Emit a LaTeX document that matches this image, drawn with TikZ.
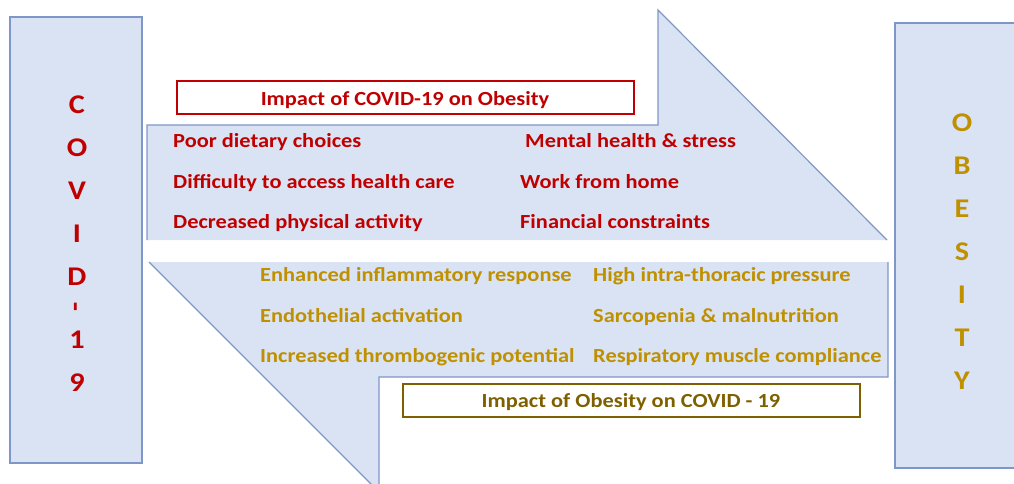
\documentclass[tikz,border=0pt]{standalone}
\usepackage{fontspec}
\setmainfont{Carlito}[FakeStretch=1.12]
\definecolor{panelfill}{HTML}{DAE3F3}
\definecolor{paneldraw}{HTML}{7F96C8}
\definecolor{covidred}{HTML}{C00000}
\definecolor{obesegold}{HTML}{BF9000}
\definecolor{obesebrown}{HTML}{7F6000}
\tikzset{
  panel/.style={fill=panelfill, draw=paneldraw, line width=1.2pt},
  bigletter/.style={font=\fontsize{27}{29}\selectfont\bfseries, inner sep=0pt},
  item/.style={font=\fontsize{20}{22}\selectfont\bfseries, anchor=base west, inner sep=0pt},
  heading/.style={font=\fontsize{20}{22}\selectfont\bfseries, anchor=base, inner sep=0pt}
}
\begin{document}
\begin{tikzpicture}[x=1pt, y=-1pt]
    \useasboundingbox (0,0) rectangle (1014,483);
    \clip (0,0) rectangle (1014,483);
    % side bars
    \draw[panel] (10,17) rectangle (142,463);
    \draw[panel] (895,23) rectangle (1029,468);
    % upper arrow, no outline on its lower side
    \fill[panelfill] (147,240) -- (147,125) -- (658,125) -- (658,10) -- (887,240) -- cycle;
    \draw[paneldraw, line width=1.2pt] (147,240) -- (147,125) -- (658,125) -- (658,10) -- (887,240);
    % lower arrow, no outline on its upper side
    \fill[panelfill] (149,262) -- (888,262) -- (888,377) -- (379,377) -- (379,492) -- cycle;
    \draw[paneldraw, line width=1.2pt] (149,262) -- (379,492) -- (379,377) -- (888,377) -- (888,262);
    % headings
    \draw[covidred, line width=2pt, fill=white] (177,81) rectangle (634,114);
    \node[heading, text=covidred] (topHead) at (405,105) {Impact of COVID-19 on Obesity};
    \draw[obesebrown, line width=2.5pt, fill=white] (403,384) rectangle (860,417);
    \node[heading, text=obesebrown] (botHead) at (631,407) {Impact of Obesity on COVID - 19};
    % COVID-19 letters
    \foreach \ch [count=\i] in {C,O,V,I,D}
      \node[bigletter, text=covidred] (cv\i) at (77,{62+43*\i}) {\ch};
    \node[bigletter, text=covidred, rotate=90] (cvDash) at (79,307) {-};
    \node[bigletter, text=covidred] (cvOne) at (77,340) {1};
    \node[bigletter, text=covidred] (cvNine) at (77,383) {9};
    % OBESITY letters
    \foreach \ch [count=\i] in {O,B,E,S,I,T,Y}
      \node[bigletter, text=obesegold] (ob\i) at (962,{80+43*\i}) {\ch};
    % covid -> obesity
    \node[item, text=covidred] (diet) at (173,147) {Poor dietary choices};
    \node[item, text=covidred] (access) at (173,188) {Difficulty to access health care};
    \node[item, text=covidred] (activity) at (173,228) {Decreased physical activity};
    \node[item, text=covidred] (stress) at (525,147) {Mental health \& stress};
    \node[item, text=covidred] (home) at (520,188) {Work from home};
    \node[item, text=covidred] (money) at (520,228) {Financial constraints};
    % obesity -> covid
    \node[item, text=obesegold] (inflam) at (260,281) {Enhanced inflammatory response};
    \node[item, text=obesegold] (endo) at (260,322) {Endothelial activation};
    \node[item, text=obesegold] (thrombo) at (260,362) {Increased thrombogenic potential};
    \node[item, text=obesegold] (thorax) at (593,281) {High intra-thoracic pressure};
    \node[item, text=obesegold] (sarco) at (593,322) {Sarcopenia \& malnutrition};
    \node[item, text=obesegold] (resp) at (593,362) {Respiratory muscle compliance};
\end{tikzpicture}
\end{document}
